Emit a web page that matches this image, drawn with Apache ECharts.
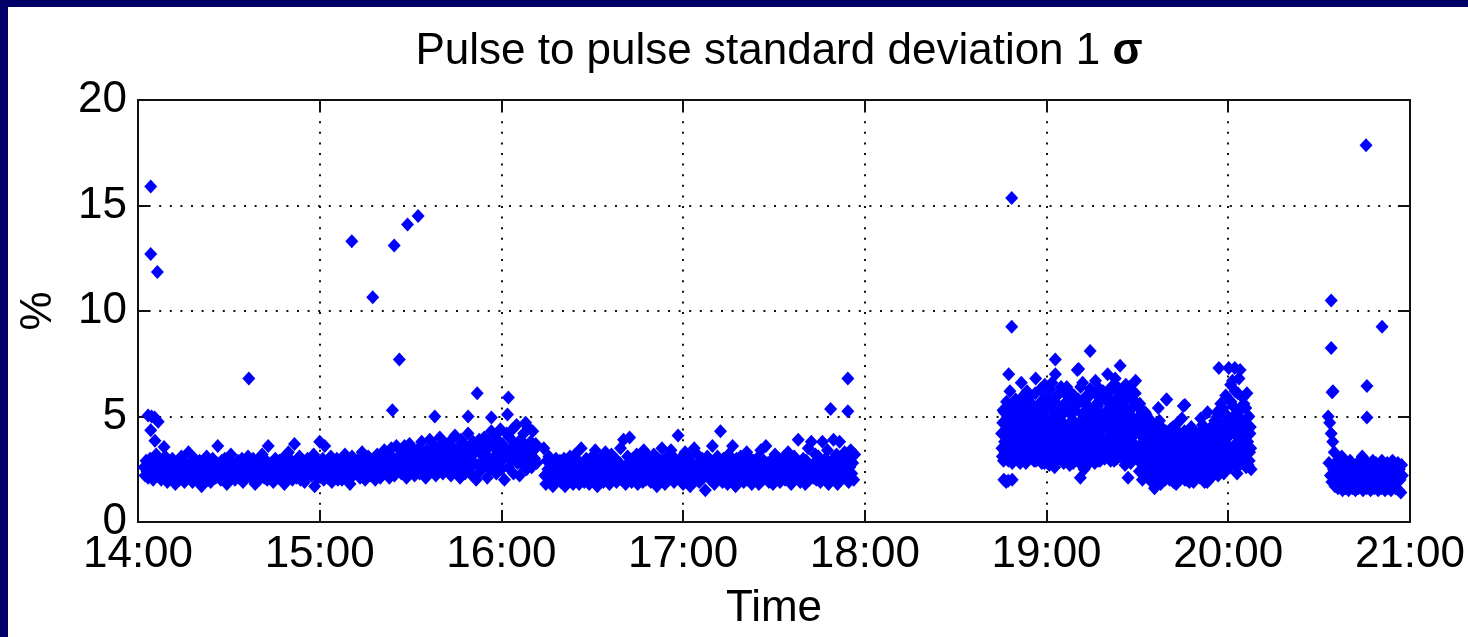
<!DOCTYPE html>
<html>
<head>
<meta charset="utf-8">
<title>Pulse to pulse standard deviation</title>
<script src="https://cdn.jsdelivr.net/npm/echarts@6.0.0/dist/echarts.min.js"></script>
<style>
  html, body { margin: 0; padding: 0; background: #000066; overflow: hidden; }
  #panel { position: absolute; left: 8px; top: 7px; width: 1460px; height: 630px; background: #ffffff; }
  #chart { position: absolute; left: 0; top: 0; width: 1468px; height: 637px; }
</style>
</head>
<body>
<div id="panel"></div>
<div id="chart"></div>
<script>
// Axis ticks
const timeTicks = ['14:00', '15:00', '16:00', '17:00', '18:00', '19:00', '20:00', '21:00'];
const percentTicks = [0, 5, 10, 15, 20];

// Run 1: 14:02 - 16:11, one reading every 20 s (% std dev)
const run1Start = '14:02:00';
const run1StepSec = 20;
const run1 = [
  2.6, 2.2, 2.9, 2.4, 2.1, 2.7, 3.0, 2.3, 2.5, 2.0, 2.8, 2.4, 3.2, 2.2, 2.6,
  2.3, 2.9, 2.0, 2.5, 2.7, 2.1, 3.1, 2.4, 1.9, 2.6, 2.8, 2.2, 2.5, 3.0, 2.1,
  2.4, 1.8, 2.7, 2.3, 2.9, 2.0, 2.6, 3.1, 2.2, 2.5, 1.9, 2.8, 2.3, 2.6, 3.3,
  2.1, 2.5, 2.8, 1.9, 2.4, 3.0, 2.2, 2.7, 2.0, 2.5, 2.9, 2.3, 1.7, 2.6, 2.4,
  2.8, 2.2, 3.1, 2.0, 2.5, 2.7, 1.9, 2.4, 3.0, 2.3, 2.6, 2.1, 2.8, 3.6, 2.2,
  2.5, 2.0, 2.9, 2.4, 2.2, 3.0, 2.6, 1.8, 2.7, 2.3, 2.5, 3.2, 2.1, 2.8, 2.4,
  2.0, 2.6, 2.3, 2.9, 2.1, 2.7, 2.5, 3.0, 1.9, 2.4, 2.8, 2.2, 2.6, 3.1, 2.3,
  2.7, 2.1, 2.5, 3.0, 2.2, 1.8, 2.6, 2.9, 2.4, 2.0, 2.8, 2.3, 3.2, 2.5, 2.1,
  2.4, 2.9, 2.0, 3.6, 2.6, 2.2, 2.8, 2.5, 1.9, 2.7, 3.0, 2.3, 2.5, 2.1, 2.9,
  2.2, 2.6, 3.0, 2.4, 1.8, 2.8, 2.3, 2.7, 3.3, 2.1, 2.5, 2.9, 2.0, 2.6, 3.7,
  2.5, 2.1, 2.8, 2.3, 3.1, 2.0, 2.6, 2.4, 2.9, 1.9, 2.7, 2.2, 3.0, 2.5, 2.3,
  2.8, 2.2, 2.6, 3.2, 1.7, 2.4, 2.9, 2.1, 2.7, 3.8, 2.3, 2.5, 3.0, 2.0, 3.6,
  2.4, 2.7, 2.1, 2.9, 2.3, 3.1, 1.9, 2.6, 2.8, 2.2, 2.5, 3.0, 2.0, 2.7, 2.4,
  2.6, 2.0, 2.8, 2.3, 3.2, 2.5, 2.1, 2.9, 2.4, 1.8, 2.7, 3.1, 2.2, 2.6, 2.9,
  2.3, 2.8, 2.5, 3.0, 2.1, 2.6, 3.3, 2.2, 2.7, 2.0, 2.9, 2.4, 3.1, 2.5, 2.2,
  2.7, 2.3, 3.0, 2.5, 2.0, 2.8, 3.2, 2.4, 2.6, 2.1, 3.0, 2.7, 2.3, 3.4, 2.5,
  2.9, 2.4, 3.3, 2.1, 2.7, 3.5, 2.5, 3.0, 2.2, 2.8, 3.6, 2.4, 3.1, 2.6, 3.4,
  2.3, 3.0, 2.7, 3.6, 2.5, 2.1, 3.2, 2.8, 3.7, 2.4, 3.0, 2.6, 3.4, 2.2, 2.9,
  3.1, 2.6, 3.5, 2.3, 2.9, 3.8, 2.5, 3.2, 2.8, 2.1, 3.4, 2.7, 3.0, 3.9, 2.4,
  2.8, 3.3, 2.5, 3.6, 2.2, 3.0, 2.7, 3.5, 4.0, 2.6, 3.1, 2.3, 3.4, 2.9, 3.7,
  2.5, 3.2, 2.9, 3.8, 2.2, 3.5, 2.7, 3.0, 4.1, 2.4, 3.3, 2.8, 3.6, 2.1, 3.9,
  3.0, 2.6, 3.7, 2.3, 3.4, 2.9, 4.2, 2.5, 3.1, 3.6, 2.2, 3.8, 2.8, 3.3, 2.0,
  3.5, 2.7, 3.9, 2.4, 3.2, 3.7, 2.6, 4.0, 2.9, 3.4, 2.1, 3.8, 3.0, 2.5, 4.3,
  2.8, 3.6, 3.1, 4.1, 2.3, 3.9, 2.7, 3.3, 4.4, 2.5, 3.7, 3.0, 2.0, 3.5, 4.2,
  3.2, 2.6, 4.0, 3.4, 2.9, 4.4, 2.3, 3.7, 3.1, 4.6, 2.8, 3.5, 2.2, 3.9, 3.3,
  2.7, 4.2, 3.0, 3.6, 2.5, 4.5, 3.3, 2.9, 3.8, 2.6, 4.3, 3.4, 3.0, 3.7, 2.8
];

// Run 2: 16:14 - 17:57, one reading every 20 s
const run2Start = '16:14:00';
const run2StepSec = 20;
const run2 = [
  3.5, 2.2, 1.8, 2.9, 2.5, 3.1, 2.0, 2.7, 2.3, 1.7, 2.8, 2.4, 3.0, 2.1, 2.6,
  2.3, 2.9, 1.9, 2.5, 2.2, 3.0, 1.7, 2.6, 2.8, 2.0, 2.4, 3.1, 2.1, 2.7, 1.8,
  2.5, 3.2, 2.0, 2.3, 2.9, 1.8, 2.6, 3.5, 2.2, 2.7, 1.9, 2.4, 3.0, 2.1, 2.5,
  1.8, 2.8, 2.3, 3.1, 2.0, 2.6, 3.4, 2.2, 1.7, 2.9, 2.4, 3.0, 2.1, 2.7, 1.9,
  2.6, 3.3, 2.1, 2.4, 2.9, 1.8, 2.5, 3.2, 2.0, 2.7, 2.3, 3.0, 1.9, 2.6, 2.2,
  2.8, 3.5, 2.0, 2.4, 3.9, 2.2, 1.8, 2.7, 3.1, 2.3, 4.0, 2.5, 1.9, 3.0, 2.6,
  2.1, 2.7, 3.2, 1.8, 2.5, 3.0, 2.2, 2.8, 1.9, 3.4, 2.4, 2.0, 2.9, 2.6, 3.1,
  2.3, 1.9, 2.8, 2.5, 3.2, 2.0, 2.6, 1.7, 3.0, 2.4, 2.1, 2.9, 3.5, 2.2, 2.7,
  1.8, 2.6, 3.1, 2.3, 2.0, 2.8, 3.4, 2.1, 2.5, 1.9, 3.0, 2.7, 2.2, 4.1, 2.4,
  3.0, 2.1, 2.6, 1.8, 2.9, 3.3, 2.3, 2.0, 2.7, 3.1, 1.7, 2.5, 2.8, 2.2, 3.5,
  2.4, 2.0, 3.2, 2.6, 1.9, 2.8, 2.3, 3.0, 2.1, 2.7, 1.5, 2.5, 3.1, 2.2, 2.8,
  2.0, 2.6, 3.6, 2.3, 1.8, 2.9, 2.5, 3.1, 2.1, 2.7, 4.3, 2.4, 1.9, 3.0, 2.2,
  2.8, 2.3, 1.8, 3.2, 2.5, 2.0, 2.9, 3.6, 2.2, 2.6, 1.7, 3.0, 2.4, 2.1, 2.7,
  3.1, 2.2, 2.6, 1.9, 2.8, 2.4, 3.3, 2.0, 2.7, 2.3, 3.0, 1.8, 2.5, 2.9, 2.1,
  2.6, 3.0, 2.2, 1.8, 2.7, 3.4, 2.4, 2.0, 2.9, 2.5, 3.6, 2.1, 2.8, 1.9, 2.3,
  2.9, 2.3, 1.8, 2.6, 3.2, 2.1, 2.7, 2.4, 3.0, 1.9, 2.5, 2.8, 2.2, 3.1, 2.0,
  2.4, 2.8, 3.3, 2.0, 2.6, 1.8, 2.9, 2.3, 3.1, 2.5, 2.1, 2.7, 3.9, 2.2, 1.9,
  2.7, 2.2, 3.0, 2.5, 1.8, 2.9, 2.3, 3.5, 2.0, 2.6, 3.8, 2.4, 2.1, 2.8, 3.2,
  2.0, 2.6, 3.1, 2.3, 1.9, 2.8, 3.8, 2.4, 2.1, 3.0, 2.5, 3.4, 1.8, 2.7, 2.2,
  2.9, 2.4, 3.9, 2.0, 2.6, 3.2, 1.8, 2.7, 3.8, 2.3, 3.0, 2.1, 2.5, 3.3, 2.8,
  2.2, 3.0, 1.9, 2.6, 3.4, 2.3, 2.8, 2.0, 3.2
];

// Run 3: 18:45 - 20:07, one reading every 7.5 s, logged as two interleaved columns
const run3Start = '18:45:10';
const run3StepSec = 15;
const run3 = [
  4.2, 3.1, 5.3, 2.0, 3.8, 4.6, 1.9, 3.4, 5.0, 2.9, 4.1, 6.2, 3.6, 4.8, 2.8, 5.5, 3.9, 4.4, 3.2, 5.1,
  3.7, 4.9, 2.9, 5.6, 4.0, 3.3, 6.6, 4.5, 3.0, 5.2, 3.8, 4.3, 2.8, 5.8, 4.1, 3.5, 4.7, 3.1, 6.0, 3.9,
  4.4, 3.2, 5.4, 2.9, 4.0, 6.8, 3.6, 4.8, 3.0, 5.1, 4.2, 3.4, 5.7, 2.8, 4.6, 3.8, 5.0, 6.5, 3.3, 4.3,
  3.1, 5.5, 4.1, 2.7, 6.3, 3.7, 4.9, 3.2, 5.8, 4.4, 2.6, 7.0, 3.9, 5.1, 3.0, 4.6, 6.1, 3.5, 4.2, 5.4,
  3.3, 4.7, 2.8, 5.6, 4.0, 3.6, 6.4, 3.1, 4.5, 5.2, 2.7, 3.9, 5.9, 4.3, 3.4, 4.8, 2.9, 5.3, 4.1, 3.7,
  7.2, 4.5, 3.0, 5.7, 2.1, 4.2, 3.5, 6.6, 4.9, 2.5, 3.8, 5.3, 3.2, 4.4, 5.9, 2.9, 4.0, 6.3, 3.6, 4.7,
  3.1, 5.0, 4.3, 2.8, 6.7, 3.7, 4.6, 5.5, 3.3, 4.0, 2.9, 5.8, 4.4, 3.5, 6.2, 4.8, 3.0, 5.2, 3.9, 4.5,
  7.0, 3.4, 5.6, 4.1, 2.9, 6.4, 3.8, 4.9, 3.2, 5.3, 6.8, 4.3, 3.0, 5.9, 4.6, 3.6, 6.1, 4.0, 3.3, 5.0,
  4.4, 3.1, 5.7, 2.7, 6.5, 3.8, 4.8, 2.1, 5.2, 4.0, 3.4, 6.2, 4.6, 3.0, 5.5, 3.7, 4.2, 6.7, 3.2, 4.9,
  3.5, 5.4, 2.4, 4.3, 3.0, 5.0, 2.0, 3.8, 4.6, 2.7, 3.3, 5.1, 2.2, 4.0, 3.6, 2.5, 4.4, 3.1, 1.9, 3.9,
  2.6, 3.4, 1.6, 4.1, 2.9, 3.7, 2.2, 5.4, 3.0, 4.5, 1.8, 3.3, 2.5, 4.0, 2.8, 3.6, 2.0, 4.3, 5.8, 3.1,
  2.4, 3.8, 2.0, 4.4, 3.2, 2.7, 4.0, 1.9, 3.5, 2.9, 4.6, 2.3, 3.3, 2.1, 4.1, 3.0, 2.6, 3.7, 4.9, 2.2,
  5.5, 3.4, 2.0, 4.2, 2.8, 3.6, 2.3, 4.0, 1.9, 3.1, 2.6, 4.4, 3.3, 2.1, 3.8, 2.5, 3.0, 4.1, 2.2, 3.5,
  2.7, 3.9, 2.1, 4.9, 3.2, 2.4, 4.3, 3.6, 1.9, 2.9, 4.0, 2.3, 5.2, 3.4, 2.0, 3.7, 2.6, 4.5, 3.1, 2.2,
  3.6, 2.5, 4.2, 2.9, 3.3, 5.0, 2.2, 7.3, 3.8, 2.7, 4.6, 3.1, 5.4, 2.4, 4.0, 3.5, 6.0, 2.8, 4.4, 3.2,
  7.3, 4.1, 2.6, 5.7, 3.4, 6.7, 4.6, 3.0, 7.3, 5.1, 3.7, 2.3, 6.1, 4.3, 3.2, 7.2, 5.4, 2.9, 4.8, 3.9,
  5.6, 3.3, 4.5, 2.6, 6.1, 3.8, 5.0, 2.9, 4.2, 3.5
];
const run3bStart = '18:45:17.5';
const run3b = [
  3.5, 4.7, 2.9, 5.2, 3.3, 4.0, 5.7, 3.0, 4.5, 3.7, 5.0, 3.2, 4.3, 5.4, 3.9, 2.9, 4.8, 3.6, 5.8, 4.1,
  4.6, 3.2, 5.3, 3.9, 2.8, 4.4, 5.9, 3.4, 4.9, 3.0, 5.5, 4.2, 3.6, 6.2, 4.0, 3.1, 5.1, 4.5, 3.3, 5.6,
  3.0, 5.0, 4.1, 3.5, 6.1, 2.9, 4.7, 5.5, 3.7, 4.3, 3.1, 6.3, 4.9, 3.4, 5.2, 4.0, 2.8, 5.9, 4.4, 3.6,
  4.8, 3.3, 5.9, 4.0, 3.0, 5.3, 6.6, 3.6, 4.5, 2.8, 5.7, 4.2, 3.4, 6.0, 4.7, 3.1, 5.0, 3.8, 6.4, 4.3,
  5.1, 3.9, 4.4, 6.1, 3.2, 5.5, 2.9, 4.6, 3.7, 6.2, 4.1, 3.0, 5.4, 4.8, 2.8, 6.0, 3.5, 4.3, 5.7, 3.1,
  4.0, 5.8, 3.3, 4.6, 6.4, 2.7, 5.1, 3.9, 4.4, 5.6, 3.1, 4.9, 6.0, 3.6, 4.2, 2.8, 5.4, 3.4, 4.7, 6.2,
  5.3, 3.6, 4.8, 6.1, 3.2, 5.6, 4.1, 2.9, 4.7, 6.3, 3.5, 5.1, 3.8, 4.4, 5.9, 3.1, 4.6, 6.0, 3.4, 5.2,
  4.5, 5.8, 3.3, 6.2, 4.0, 3.6, 5.4, 4.7, 2.9, 6.5, 3.9, 5.1, 4.2, 3.4, 5.7, 6.3, 3.1, 4.8, 5.5, 3.7,
  5.9, 4.2, 3.3, 6.0, 4.7, 3.0, 5.3, 3.8, 6.4, 4.4, 2.8, 5.0, 3.6, 5.8, 4.1, 3.2, 6.1, 4.5, 3.5, 5.5,
  4.7, 3.2, 5.6, 2.8, 4.1, 3.6, 4.8, 2.3, 3.9, 5.2, 2.9, 4.4, 3.4, 2.6, 4.9, 3.0, 2.1, 4.2, 3.5, 2.7,
  3.8, 2.3, 4.6, 3.1, 2.0, 4.2, 3.5, 2.7, 4.8, 1.9, 3.3, 3.9, 2.4, 4.4, 3.0, 2.1, 3.6, 2.8, 4.1, 2.5,
  3.4, 2.1, 4.2, 2.8, 3.7, 2.2, 4.5, 3.0, 2.5, 3.9, 1.8, 3.2, 4.3, 2.6, 3.5, 2.0, 4.0, 2.9, 3.3, 2.4,
  3.1, 4.3, 2.4, 3.7, 2.0, 4.1, 3.3, 2.6, 3.9, 2.2, 4.5, 2.9, 3.5, 1.9, 4.0, 3.2, 2.7, 3.8, 2.3, 4.2,
  3.5, 2.3, 4.1, 2.8, 3.3, 4.6, 2.0, 3.7, 2.5, 4.3, 3.0, 1.9, 3.6, 2.7, 4.4, 3.2, 2.1, 3.9, 2.6, 4.0,
  2.9, 4.8, 3.4, 2.4, 5.2, 3.7, 2.8, 4.3, 3.1, 5.6, 2.6, 4.0, 3.5, 2.3, 4.7, 3.3, 5.1, 2.7, 4.1, 3.6,
  4.4, 3.1, 6.5, 4.9, 2.8, 5.5, 3.6, 4.2, 6.2, 3.3, 5.0, 2.6, 4.6, 6.8, 3.8, 5.3, 3.0, 4.0, 5.9, 3.4,
  4.7, 2.8, 5.4, 3.6, 4.1, 2.7, 5.0, 3.3, 4.5, 2.5
];

// Run 4: 20:33 - 20:58, one reading every 15 s
const run4Start = '20:33:00';
const run4StepSec = 15;
const run4 = [
  5.0, 2.8, 4.7, 2.2, 4.2, 1.9, 3.8, 2.5, 3.3, 1.7, 2.6, 2.0, 2.9, 1.6, 2.3, 1.8, 2.7, 2.1, 3.1, 1.5,
  2.4, 1.9, 2.8, 1.6, 2.2, 1.8, 2.6, 1.5, 2.0, 2.9, 1.7, 2.3, 1.6, 2.7, 1.9, 2.1, 1.5, 2.5, 1.8, 2.8,
  1.6, 2.2, 2.9, 1.7, 2.4, 3.1, 1.5, 2.0, 2.6, 1.8, 2.3, 1.6, 2.8, 1.9, 2.1, 2.7, 1.5, 2.4, 1.7, 2.9,
  2.0, 1.6, 2.5, 2.8, 1.8, 2.2, 1.5, 2.7, 1.9, 2.4, 1.6, 2.9, 2.1, 1.7, 2.6, 1.5, 2.3, 2.0, 2.8, 1.6,
  2.2, 1.8, 2.7, 1.5, 2.4, 2.9, 1.7, 2.1, 2.6, 1.6, 2.3, 1.9, 2.8, 1.5, 2.5, 2.0, 1.4, 2.7, 2.2
];

// Isolated high readings (clock time, %)
const spikeTimes = [
  '14:03:20', '14:04:12', '14:04:12', '14:04:12', '14:04:30', '14:05:30', '14:05:36', '14:06:24', '14:06:40', '14:08:36',
  '14:36:36', '15:10:36', '15:17:30', '15:24:00', '15:24:36', '15:26:18', '15:29:00', '15:32:30', '15:38:00', '15:49:00',
  '15:52:00', '15:56:42', '16:02:00', '16:02:18', '16:08:00',
  '17:48:42', '17:54:24', '17:54:24',
  '18:47:20', '18:47:30', '18:48:30', '18:48:30', '18:48:40', '19:02:54', '19:10:36', '19:14:24', '19:24:18', '19:39:36', '19:45:42',
  '20:34:00', '20:34:00', '20:34:18', '20:34:36', '20:45:30', '20:45:48', '20:45:48', '20:50:48'
];
const spikeValues = [
  5.05, 15.9, 12.7, 4.35, 5.0, 4.95, 3.85, 11.85, 4.75, 3.55,
  6.8, 13.3, 10.65, 5.3, 13.1, 7.7, 14.1, 14.5, 5.0, 5.0,
  6.1, 4.95, 5.1, 5.9, 4.7,
  5.35, 5.25, 6.8,
  1.95, 7.0, 9.25, 15.35, 2.0, 7.7, 7.25, 8.1, 7.4, 5.8, 5.55,
  10.5, 8.25, 6.15, 6.2, 17.85, 6.45, 4.95, 9.25
];

// ---- build points: minutes after 14:00 on the x axis ----
function clockToMinutes(s) {
  const p = s.split(':').map(Number);
  return (p[0] - 14) * 60 + p[1] + (p[2] || 0) / 60;
}
function runPoints(start, stepSec, values) {
  const t0 = clockToMinutes(start);
  return values.map((v, i) => [t0 + i * stepSec / 60, v]);
}
const points = [].concat(
  runPoints(run1Start, run1StepSec, run1),
  runPoints(run2Start, run2StepSec, run2),
  runPoints(run3Start, run3StepSec, run3),
  runPoints(run3bStart, run3StepSec, run3b),
  runPoints(run4Start, run4StepSec, run4),
  spikeTimes.map((t, i) => [clockToMinutes(t), spikeValues[i]])
);

const FONT = '"Liberation Sans", Arial, Helvetica, sans-serif';
const xMin = 0, xMax = (timeTicks.length - 1) * 60;
const frameLine = { show: true, onZero: false, lineStyle: { color: '#111', width: 2 } };
const innerTick = { show: true, inside: true, length: 12, lineStyle: { color: '#111', width: 2 } };
const dotted = { show: true, lineStyle: { color: '#111', width: 2, type: [2, 8.6] } };

const chart = echarts.init(document.getElementById('chart'), null, { renderer: 'canvas' });
chart.setOption({
  animation: false,
  backgroundColor: 'transparent',
  title: {
    text: '{a|Pulse to pulse standard deviation 1 }{b|σ}',
    left: 774,
    textAlign: 'center',
    top: 25,
    textStyle: {
      fontWeight: 'normal',
      rich: {
        a: { fontFamily: FONT, fontSize: 44, color: '#000', fontWeight: 'normal' },
        b: { fontFamily: FONT, fontSize: 44, color: '#000', fontWeight: 'bold' }
      }
    }
  },
  grid: { left: 138, top: 100, width: 1274, height: 422, containLabel: false },
  xAxis: [
    {
      type: 'value', position: 'bottom', min: xMin, max: xMax, interval: 60,
      axisLine: frameLine, axisTick: innerTick, splitLine: dotted,
      axisLabel: {
        show: true, margin: 11, fontFamily: FONT, fontSize: 44, color: '#000',
        formatter: v => timeTicks[Math.round(v / 60)]
      },
      name: 'Time', nameLocation: 'middle', nameGap: 65, nameMoveOverlap: false,
      nameTextStyle: { fontFamily: FONT, fontSize: 44, color: '#000' }
    },
    {
      type: 'value', position: 'top', min: xMin, max: xMax, interval: 60,
      axisLine: frameLine, axisTick: innerTick, splitLine: { show: false },
      axisLabel: { show: false }
    }
  ],
  yAxis: [
    {
      type: 'value', position: 'left', min: percentTicks[0], max: percentTicks[percentTicks.length - 1], interval: 5,
      axisLine: frameLine, axisTick: innerTick, splitLine: dotted,
      axisLabel: { show: true, margin: 11, fontFamily: FONT, fontSize: 44, color: '#000' },
      name: '%', nameLocation: 'middle', nameRotate: 90, nameGap: 77, nameMoveOverlap: false,
      nameTextStyle: { fontFamily: FONT, fontSize: 44, color: '#000' }
    },
    {
      type: 'value', position: 'right', min: percentTicks[0], max: percentTicks[percentTicks.length - 1], interval: 5,
      axisLine: frameLine, axisTick: innerTick, splitLine: { show: false },
      axisLabel: { show: false }
    }
  ],
  series: [{
    type: 'scatter',
    data: points,
    symbol: 'diamond',
    symbolSize: [13, 14],
    itemStyle: { color: '#0000ff', opacity: 1 },
    emphasis: { disabled: true },
    z: 3
  }]
});
</script>
</body>
</html>
